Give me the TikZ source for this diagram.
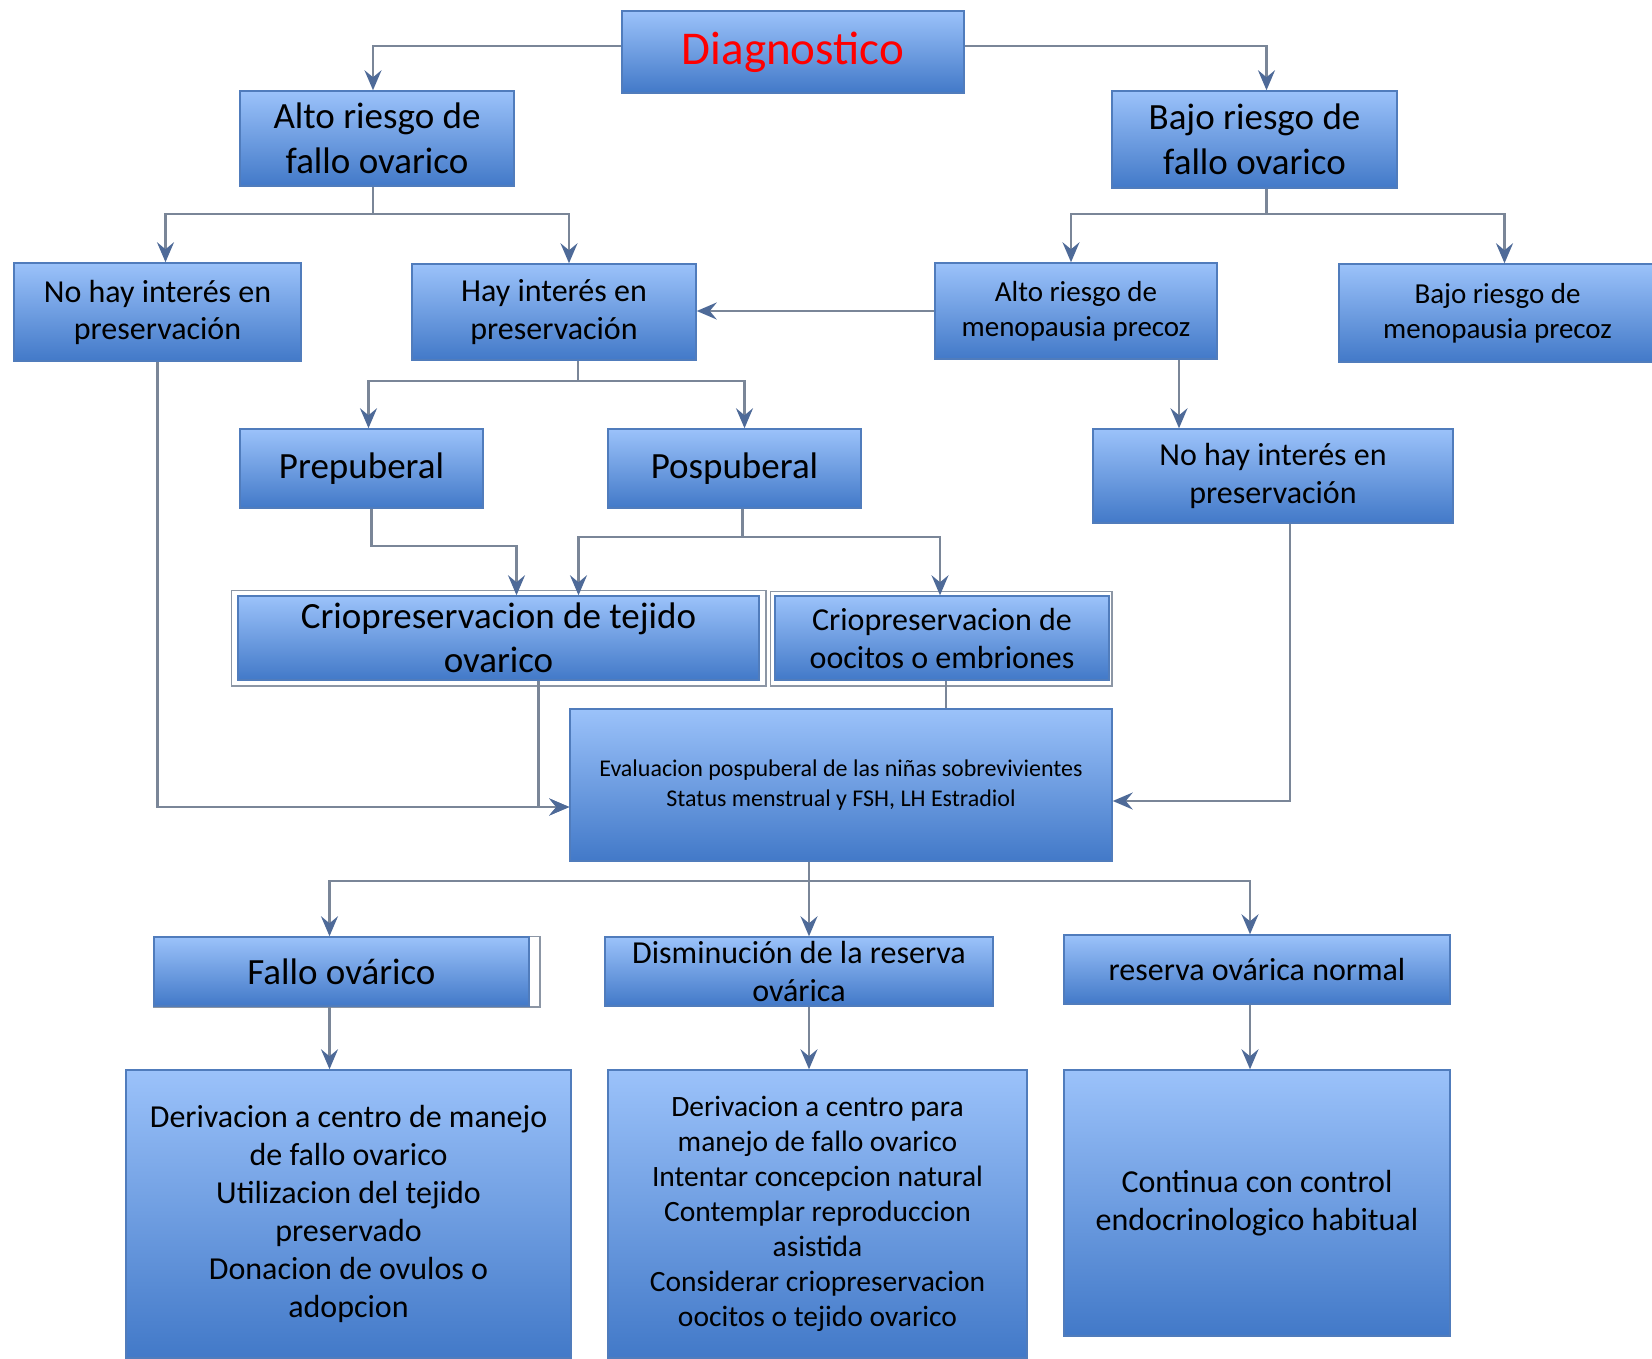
\documentclass[tikz,border=0pt]{standalone}
\usepackage{fontspec}
\setmainfont{Carlito}
\usetikzlibrary{arrows.meta,backgrounds}
\definecolor{arriba}{RGB}{155,194,250}
\definecolor{abajo}{RGB}{66,121,200}
\definecolor{borde}{RGB}{80,124,188}
\definecolor{linea}{RGB}{122,134,152}
\definecolor{punta}{RGB}{78,106,152}
\definecolor{marco}{RGB}{140,150,165}
\begin{document}
\begin{tikzpicture}[x=1pt, y=-1pt, caja/.style={draw=borde, line width=1.5pt, top color=arriba, bottom color=abajo, align=center, inner sep=0pt}, conector/.style={draw=linea, line width=2.4pt}, flecha/.style={conector, -{Stealth[length=20pt, width=17pt, inset=7pt, color=punta]}}, doble/.style={draw=marco, line width=1.5pt}, letra/.style 2 args={font=\fontsize{#1}{#2}\selectfont}]
	\useasboundingbox (0,0) rectangle (1652,1358);
	\node[caja, minimum width=342, minimum height=82, text=red, letra={47}{56}] (diag) at (793,52) {Diagnostico};
	\node[caja, minimum width=274, minimum height=95, letra={37}{45}] (altoF) at (377,138.5) {Alto riesgo de\\fallo ovarico};
	\node[caja, minimum width=285, minimum height=97, letra={37}{45}] (bajoF) at (1254.5,139.5) {Bajo riesgo de\\fallo ovarico};
	\node[caja, minimum width=287, minimum height=98, letra={32}{37}] (noIzq) at (157.5,312) {No hay interés en\\preservación};
	\node[caja, minimum width=284, minimum height=96, letra={32}{38}] (hayInt) at (554,312) {Hay interés en\\preservación};
	\node[caja, minimum width=282, minimum height=96, letra={29}{35}] (altoM) at (1076,311) {Alto riesgo de\\menopausia precoz};
	\node[caja, minimum width=317, minimum height=98, letra={29}{35}] (bajoM) at (1497.5,313) {Bajo riesgo de\\menopausia precoz};
	\node[caja, minimum width=243, minimum height=79, letra={37}{45}] (prep) at (361.5,468.5) {Prepuberal};
	\node[caja, minimum width=253, minimum height=79, letra={37}{45}] (posp) at (734.5,468.5) {Pospuberal};
	\node[caja, minimum width=360, minimum height=94, letra={32}{38}] (noDer) at (1273,476) {No hay interés en\\preservación};
	\node[caja, minimum width=521, minimum height=84, letra={37}{44}] (crioT) at (498.5,638) {Criopreservacion de tejido\\ovarico};
	\node[caja, minimum width=334, minimum height=84, letra={32}{38}] (crioO) at (942,638) {Criopreservacion de\\oocitos o embriones};
	\node[caja, minimum width=542, minimum height=152, letra={24}{29.5}] (eval) at (841,785) {Evaluacion pospuberal de las niñas sobrevivientes\\Status menstrual y FSH, LH Estradiol};
	\node[caja, minimum width=375, minimum height=69, letra={37}{45}] (fallo) at (341.5,971.5) {Fallo ovárico};
	\node[caja, minimum width=388, minimum height=69, letra={32}{38}] (dism) at (799,971.5) {Disminución de la reserva\\ovárica};
	\node[caja, minimum width=386, minimum height=69, letra={32}{38}] (normal) at (1257,969.5) {reserva ovárica normal};
	\node[caja, minimum width=445, minimum height=288, letra={32}{38}] (derF) at (348.5,1214) {Derivacion a centro de manejo\\de fallo ovarico\\Utilizacion del tejido\\preservado\\Donacion de ovulos o\\adopcion};
	\node[caja, minimum width=419, minimum height=288, letra={29.5}{35}] (derD) at (817.5,1214) {Derivacion a centro para\\manejo de fallo ovarico\\Intentar concepcion natural\\Contemplar reproduccion\\asistida\\Considerar criopreservacion\\oocitos o tejido ovarico};
	\node[caja, minimum width=386, minimum height=266, letra={32}{38}] (cont) at (1257,1203) {Continua con control\\endocrinologico habitual};
	\begin{scope}[on background layer]
		\fill[white] (0,0) rectangle (1652,1358);
		\draw[doble] ([shift={(-6pt,5pt)}]crioT.north west) rectangle ([shift={(6pt,-5pt)}]crioT.south east);
		\draw[doble] ([shift={(-4pt,4pt)}]crioO.north west) rectangle ([shift={(2pt,-5pt)}]crioO.south east);
		\draw[doble] (fallo.north west) rectangle ([xshift=10pt]fallo.south east);
	\end{scope}
	\draw[flecha] ([yshift=6pt]diag.west) -| ([xshift=-4pt]altoF.north);
	\draw[flecha] ([yshift=6pt]diag.east) -| ([xshift=12pt]bajoF.north);
	\draw[conector] ([xshift=-4pt]altoF.south) -- ++(0,27) coordinate (rA);
	\draw[flecha] (rA) -| ([xshift=8pt]noIzq.north);
	\draw[flecha] (rA) -| ([xshift=15pt]hayInt.north);
	\draw[conector] ([xshift=12pt]bajoF.south) -- ++(0,25) coordinate (rB);
	\draw[flecha] (rB) -| ([xshift=-5pt]altoM.north);
	\draw[flecha] (rB) -| ([xshift=7pt]bajoM.north);
	\draw[flecha] (altoM.west) -- (altoM.west -| hayInt.east);
	\draw[flecha] ([xshift=103pt]altoM.south) -- ([xshift=103pt]altoM.south |- noDer.north);
	\draw[conector] ([xshift=24pt]hayInt.south) -- ++(0,20) coordinate (rH);
	\draw[flecha] (rH) -| ([xshift=7pt]prep.north);
	\draw[flecha] (rH) -| ([xshift=10pt]posp.north);
	\draw[flecha] ([xshift=10pt]prep.south) -- ++(0,37) -| ([xshift=18pt]crioT.north);
	\draw[conector] ([xshift=8pt]posp.south) -- ++(0,28) coordinate (rP);
	\draw[flecha] (rP) -| ([xshift=80pt]crioT.north);
	\draw[flecha] (rP) -| ([xshift=-2pt]crioO.north);
	\draw[conector] ([xshift=4pt]crioO.south) -- ([xshift=4pt]crioO.south |- eval.north);
	\draw[flecha] ([xshift=40pt]crioT.south) |- ([yshift=-22pt]eval.west);
	\draw[flecha] (noIzq.south) |- ([yshift=-22pt]eval.west);
	\draw[flecha] ([xshift=17pt]noDer.south) |- ([yshift=-16pt]eval.east);
	\draw[conector] ([xshift=-32pt]eval.south) -- ++(0,19) coordinate (rE);
	\draw[flecha] (rE) -| ([xshift=-12pt]fallo.north);
	\draw[flecha] (rE) -- (rE |- dism.north);
	\draw[flecha] (rE) -| ([xshift=-7pt]normal.north);
	\draw[flecha] ([xshift=-12pt]fallo.south) -- ([xshift=-12pt]fallo.south |- derF.north);
	\draw[flecha] ([xshift=10pt]dism.south) -- ([xshift=10pt]dism.south |- derD.north);
	\draw[flecha] ([xshift=-7pt]normal.south) -- ([xshift=-7pt]normal.south |- cont.north);
\end{tikzpicture}
\end{document}
